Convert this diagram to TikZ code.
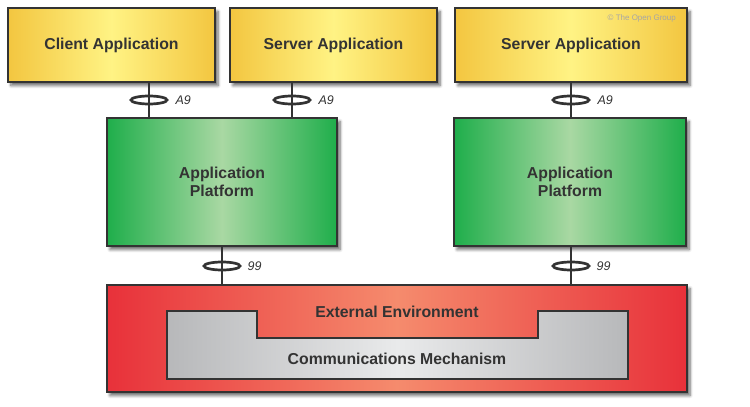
\documentclass[tikz,border=0pt]{standalone}
\usepackage{fontspec}
\setmainfont{Liberation Sans}
\usetikzlibrary{shapes.geometric,shadows.blur}
\definecolor{ink}{HTML}{333333}
\definecolor{yedge}{HTML}{F3C640}
\definecolor{ymid}{HTML}{FFF384}
\definecolor{gedge}{HTML}{1FAE4B}
\definecolor{gmid}{HTML}{A9D8A3}
\definecolor{redge}{HTML}{E8313A}
\definecolor{rmid}{HTML}{F58B6D}
\definecolor{sedge}{HTML}{B7B8BA}
\definecolor{smid}{HTML}{E9EAEB}
\tikzset{
  shad/.style={blur shadow={shadow xshift=3pt, shadow yshift=-3.5pt, shadow blur steps=6, shadow blur radius=3pt, shadow opacity=60}},
  boxbase/.style={draw=ink, line width=2.7pt, rectangle, inner sep=0pt, align=center, text=ink,
     font=\fontsize{15.8}{18}\selectfont\bfseries, shad},
  appbox/.style={boxbase, left color=yedge, right color=yedge, middle color=ymid, minimum height=74pt},
  platbox/.style={boxbase, left color=gedge, right color=gedge, middle color=gmid, minimum height=128pt},
  envbox/.style={boxbase, left color=redge, right color=redge, middle color=rmid},
  link/.style={draw=ink, line width=2.7pt},
  iface/.style={ellipse, draw=ink, line width=2.7pt, minimum width=36pt, minimum height=8pt, inner sep=0pt},
  ilabel/.style={anchor=west, text=ink, font=\fontsize{12.5}{14}\selectfont\itshape, inner sep=0pt},
  tlabel/.style={text=ink, font=\fontsize{15.8}{18}\selectfont\bfseries, inner sep=0pt}
}
\begin{document}
\begin{tikzpicture}[x=1pt, y=-1pt]
\useasboundingbox (0,0) rectangle (750,407);
% top applications
\node[appbox, minimum width=207pt] (ca) at (111.5,45) {Client Application};
\node[appbox, minimum width=207pt] (sa1) at (333.5,45) {Server Application};
\node[appbox, minimum width=232pt] (sa2) at (571,45) {Server Application};
\node[anchor=east, text=black!35, font=\fontsize{8}{9}\selectfont, inner sep=0pt] (cp) at (676,18) {\textcopyright{} The Open Group};
% platforms
\node[platbox, minimum width=230pt] (ap1) at (222,182) {Application\\Platform};
\node[platbox, minimum width=232pt] (ap2) at (570,182) {Application\\Platform};
% external environment
\node[envbox, minimum width=580pt, minimum height=107pt] (ee) at (397,338.5) {};
\path[draw=ink, line width=2.7pt, left color=sedge, right color=sedge, middle color=smid]
  (167,311) -- (257,311) -- (257,338) -- (538,338) -- (538,311) -- (628,311) -- (628,379) -- (167,379) -- cycle;
\node[tlabel] (eel) at (397,312) {External Environment};
\node[tlabel] (cml) at (397,359) {Communications Mechanism};
% interfaces A9
\node[iface] (i1) at (149,100) {};
\node[iface] (i2) at (292,100) {};
\node[iface] (i3) at (571,100) {};
\draw[link] (ca.south -| i1) -- (ap1.north -| i1);
\draw[link] (sa1.south -| i2) -- (ap1.north -| i2);
\draw[link] (sa2.south -| i3) -- (ap2.north -| i3);
\node[ilabel] (l1) at ([xshift=7pt]i1.east) {A9};
\node[ilabel] (l2) at ([xshift=7pt]i2.east) {A9};
\node[ilabel] (l3) at ([xshift=7pt]i3.east) {A9};
% interfaces 99
\node[iface] (j1) at (222,266) {};
\node[iface] (j2) at (571,266) {};
\draw[link] (ap1.south -| j1) -- (ee.north -| j1);
\draw[link] (ap2.south -| j2) -- (ee.north -| j2);
\node[ilabel] (m1) at ([xshift=6pt]j1.east) {99};
\node[ilabel] (m2) at ([xshift=6pt]j2.east) {99};
\end{tikzpicture}
\end{document}
